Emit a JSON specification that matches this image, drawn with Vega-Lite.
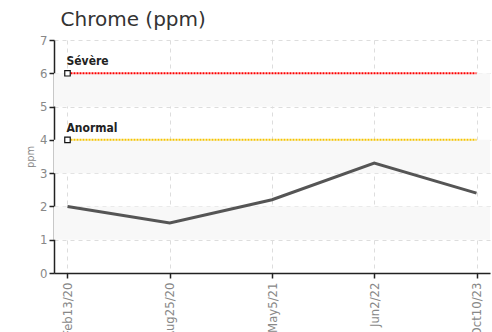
{
  "$schema": "https://vega.github.io/schema/vega-lite/v6.json",
  "width": 436,
  "height": 233,
  "autosize": {"type": "none"},
  "padding": {"left": 54, "top": 40, "right": 2, "bottom": 59},
  "background": "white",
  "title": {
    "text": "Chrome (ppm)",
    "anchor": "start",
    "font": "DejaVu Sans",
    "fontSize": 20,
    "fontWeight": "normal",
    "color": "#333333",
    "offset": 4,
    "dx": 36
  },
  "datasets": {
    "series": [
      {"date": "Feb13/20", "ppm": 2.0},
      {"date": "Aug25/20", "ppm": 1.5},
      {"date": "May5/21", "ppm": 2.2},
      {"date": "Jun2/22", "ppm": 3.3},
      {"date": "Oct10/23", "ppm": 2.4}
    ],
    "bands": [
      {"lo": 1, "hi": 2},
      {"lo": 3, "hi": 4},
      {"lo": 5, "hi": 6}
    ],
    "limits": [
      {"label": "Sévère", "value": 6, "start": "Feb13/20", "end": "Oct10/23", "color": "Sévère"},
      {"label": "Anormal", "value": 4, "start": "Feb13/20", "end": "Oct10/23", "color": "Anormal"}
    ]
  },
  "config": {
    "view": {"stroke": null},
    "axis": {
      "labelFont": "DejaVu Sans Condensed",
      "labelColor": "#888888",
      "labelFontSize": 13,
      "titleFont": "DejaVu Sans Condensed",
      "titleColor": "#888888",
      "titleFontWeight": "normal",
      "domainColor": "#222222",
      "domainWidth": 1.5,
      "tickColor": "#222222",
      "tickWidth": 1.5,
      "tickSize": 5,
      "gridColor": "#dddddd",
      "gridDash": [4, 4],
      "gridWidth": 1
    }
  },
  "layer": [
    {
      "data": {"name": "bands"},
      "mark": {"type": "rect", "color": "#f8f8f8"},
      "encoding": {
        "y": {"field": "lo", "type": "quantitative"},
        "y2": {"field": "hi"}
      }
    },
    {
      "data": {"name": "series"},
      "mark": {"type": "line", "color": "#555555", "strokeWidth": 3},
      "encoding": {
        "x": {
          "field": "date",
          "type": "ordinal",
          "sort": null,
          "scale": {"type": "point", "padding": 0.132, "domain": ["Feb13/20", "Aug25/20", "May5/21", "Jun2/22", "Oct10/23"]},
          "axis": {"title": null, "labelAngle": -90, "grid": true, "labelPadding": 4}
        },
        "y": {
          "field": "ppm",
          "type": "quantitative",
          "scale": {"domain": [0, 7]},
          "axis": {"title": "ppm", "tickCount": 7, "grid": true, "titleFontSize": 11, "titlePadding": 4, "labelPadding": 2}
        }
      }
    },
    {
      "data": {"name": "limits"},
      "mark": {"type": "rule", "strokeWidth": 2, "strokeDash": [2, 1]},
      "encoding": {
        "x": {"field": "start", "type": "ordinal"},
        "x2": {"field": "end"},
        "y": {"field": "value", "type": "quantitative"},
        "color": {
          "field": "color",
          "type": "nominal",
          "scale": {"domain": ["Sévère", "Anormal"], "range": ["#ff0000", "#f5c400"]},
          "legend": null
        }
      }
    },
    {
      "data": {"name": "limits"},
      "mark": {"type": "square", "size": 30, "fill": "white", "stroke": "#111111", "strokeWidth": 1.2, "opacity": 1},
      "encoding": {
        "x": {"field": "start", "type": "ordinal"},
        "y": {"field": "value", "type": "quantitative"}
      }
    },
    {
      "data": {"name": "limits"},
      "mark": {"type": "text", "align": "left", "baseline": "bottom", "dy": -5, "dx": -1, "font": "DejaVu Sans Condensed", "fontSize": 12, "fontWeight": "bold", "color": "#222222"},
      "encoding": {
        "x": {"field": "start", "type": "ordinal"},
        "y": {"field": "value", "type": "quantitative"},
        "text": {"field": "label"}
      }
    }
  ]
}
